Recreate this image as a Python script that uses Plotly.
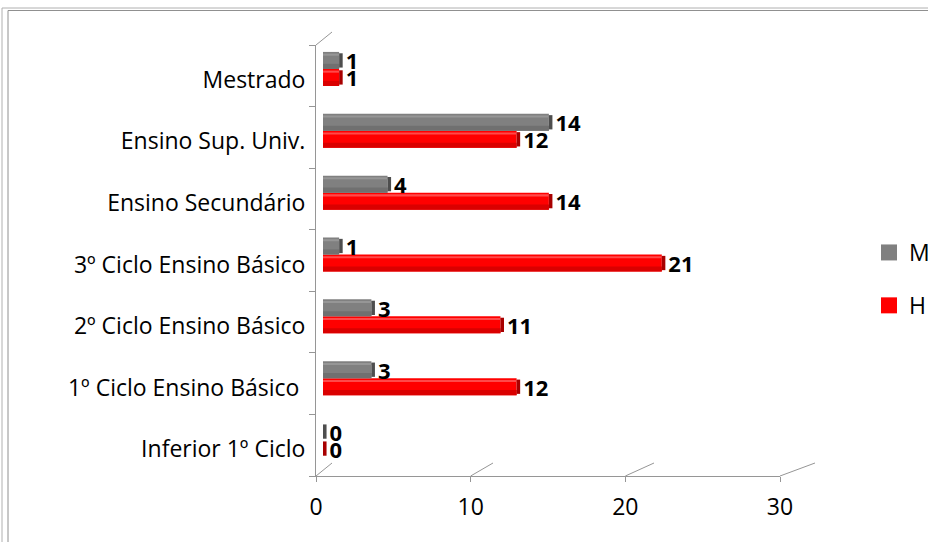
import plotly.graph_objects as go

# ---- data ----
categories = ["Inferior 1º Ciclo", "1º Ciclo Ensino Básico\u00a0", "2º Ciclo Ensino Básico",
              "3º Ciclo Ensino Básico", "Ensino Secundário", "Ensino Sup. Univ.", "Mestrado"]
values_M = [0, 3, 3, 1, 4, 14, 1]
values_H = [0, 12, 11, 21, 14, 12, 1]
x_ticks = [0, 10, 20, 30]
x_max = 30

W, HGT = 928, 542
FONT = "Open Sans"
LINE = "#969696"

series = [
    # name, values, base colour, dark band, light band, end cap, offset
    ("H", values_H, "#FF0000", "#DA0000", "#FF4A4A", "#A80000", -0.275),
    ("M", values_M, "#808080", "#707070", "#969696", "#4E4E4E", 0.0),
]
BAR_W = 0.275
CAP_W = 0.22  # thickness of the 3D end cap, in axis units


def fx(p):
    return p / W


def fy(p):
    return 1 - p / HGT


# plane geometry in pixels
bar_x0, bar_x1 = 323, 807
bar_y0, bar_y1 = 38, 471
back_x0, back_x1 = 332, 815
back_y0, back_y1 = 32, 463
front_x0, front_x1 = 316, 780
front_y0, front_y1 = 45, 476

fig = go.Figure()

for name, vals, col, dark, light, cap, off in series:
    fig.add_trace(go.Bar(y=categories, x=vals, orientation="h", name=name,
                         offset=off, width=BAR_W,
                         marker=dict(color=col, line=dict(width=0)),
                         showlegend=False, hoverinfo="x+y", xaxis="x", yaxis="y"))
    # cylinder shading: darker lower band, lighter upper line
    fig.add_trace(go.Bar(y=categories, x=vals, orientation="h", offset=off,
                         width=BAR_W * 0.3, marker=dict(color=dark, line=dict(width=0)),
                         showlegend=False, hoverinfo="skip", xaxis="x", yaxis="y"))
    fig.add_trace(go.Bar(y=categories, x=vals, orientation="h",
                         offset=off + BAR_W * 0.78, width=BAR_W * 0.12,
                         marker=dict(color=light, line=dict(width=0)),
                         showlegend=False, hoverinfo="skip", xaxis="x", yaxis="y"))
    # end cap at the bar tip, carrying the value label
    fig.add_trace(go.Bar(y=categories, x=[CAP_W] * len(vals), base=vals, orientation="h",
                         offset=off + BAR_W * 0.08, width=BAR_W * 0.84,
                         marker=dict(color=cap, line=dict(width=0)),
                         text=vals, textposition="outside", cliponaxis=False,
                         constraintext="none",
                         textfont=dict(family=FONT, size=22, color="black", weight="bold"),
                         showlegend=False, hoverinfo="skip", xaxis="x", yaxis="y"))

# legend entries (M listed first)
for name, col in [("M", "#808080"), ("H", "#FF0000")]:
    fig.add_trace(go.Scatter(x=[None], y=[None], mode="markers", name=name,
                             marker=dict(symbol="square", size=16, color=col),
                             legendgroup=name, xaxis="x", yaxis="y"))

# invisible trace to carry the front category axis
fig.add_trace(go.Scatter(x=[0] * len(categories), y=categories, mode="markers",
                         marker=dict(opacity=0), hoverinfo="skip", showlegend=False,
                         xaxis="x3", yaxis="y3"))

fig.update_layout(
    width=W, height=HGT, autosize=False,
    margin=dict(l=0, r=0, t=0, b=0, autoexpand=False),
    paper_bgcolor="white", plot_bgcolor="rgba(0,0,0,0)",
    barmode="overlay",
    font=dict(family=FONT, size=23, color="black"),
    xaxis=dict(domain=[fx(bar_x0), fx(bar_x1)], range=[0, x_max], visible=False,
               anchor="y"),
    yaxis=dict(domain=[fy(bar_y1), fy(bar_y0)], type="category",
               categoryarray=categories, range=[-0.5, len(categories) - 0.5],
               visible=False, anchor="x"),
    xaxis2=dict(domain=[fx(back_x0), fx(back_x1)], range=[0, x_max], anchor="y2",
                showgrid=True, gridcolor=LINE, gridwidth=1, tickvals=x_ticks,
                showticklabels=False, zeroline=False, showline=False, ticks=""),
    yaxis2=dict(domain=[fy(back_y1), fy(back_y0)], range=[0, 1], anchor="x2",
                showgrid=False, showticklabels=False, zeroline=False,
                showline=True, linecolor=LINE, linewidth=1, ticks=""),
    xaxis3=dict(domain=[fx(front_x0), fx(front_x1)], range=[0, x_max], anchor="y3",
                tickvals=x_ticks, ticks="outside", ticklen=5, tickcolor=LINE,
                showline=True, linecolor=LINE, linewidth=1, showgrid=False,
                zeroline=False, ticklabelstandoff=5,
                tickfont=dict(family=FONT, size=23, color="black")),
    yaxis3=dict(domain=[fy(front_y1), fy(front_y0)], type="category",
                categoryarray=categories, range=[-0.5, len(categories) - 0.5],
                anchor="x3", ticks="outside", ticklen=6, tickcolor=LINE,
                tickson="boundaries", showline=True, linecolor=LINE, linewidth=1,
                showgrid=False, zeroline=False, ticklabelshift=4, ticklabelstandoff=5,
                tickfont=dict(family=FONT, size=23, color="black")),
    legend=dict(x=fx(869), y=fy(279), xanchor="left", yanchor="middle",
                traceorder="grouped", tracegroupgap=20,
                font=dict(family=FONT, size=23, color="black"),
                bgcolor="rgba(0,0,0,0)"),
)

# perspective connectors from front axis to back plane
shapes = []
for v in x_ticks:
    xf = front_x0 + v * (front_x1 - front_x0) / x_max
    xb = back_x0 + v * (back_x1 - back_x0) / x_max
    shapes.append(dict(type="line", xref="paper", yref="paper",
                       x0=fx(xf), y0=fy(front_y1), x1=fx(xb), y1=fy(back_y1),
                       line=dict(color=LINE, width=1)))
shapes.append(dict(type="line", xref="paper", yref="paper",
                   x0=fx(front_x0), y0=fy(front_y0), x1=fx(back_x0), y1=fy(back_y0),
                   line=dict(color=LINE, width=1)))
# outer frame
shapes.append(dict(type="rect", xref="paper", yref="paper",
                   x0=fx(2), y0=-0.1, x1=1.1, y1=fy(8),
                   line=dict(color="#B0B0B0", width=1)))
shapes.append(dict(type="rect", xref="paper", yref="paper",
                   x0=fx(8), y0=-0.1, x1=1.1, y1=fy(10.5),
                   line=dict(color="#909090", width=1)))
fig.update_layout(shapes=shapes)

fig.write_html("out.html", config={"displayModeBar": False},
               post_script="document.body.style.margin='0';document.body.style.overflow='hidden';")
